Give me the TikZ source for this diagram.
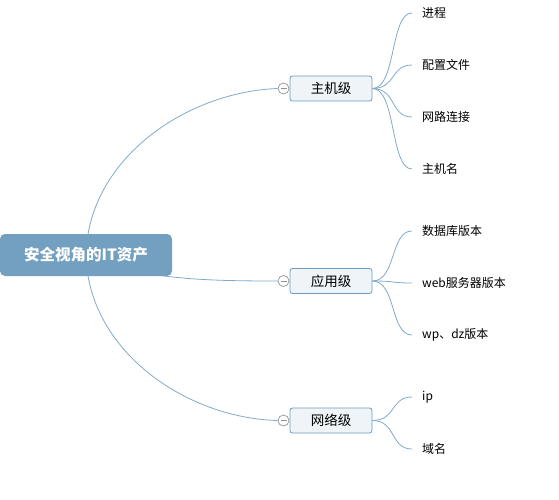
\documentclass[tikz,border=0pt]{standalone}
\usepackage{fontspec}
\setmainfont{Noto Sans CJK SC}
\usetikzlibrary{backgrounds}
\definecolor{rootfill}{HTML}{739FC0}
\definecolor{boxfill}{HTML}{EEF4F8}
\definecolor{boxline}{HTML}{6E9BC0}
\definecolor{conn}{HTML}{82AACB}
\begin{document}
\begin{tikzpicture}[x=1pt,y=1pt,
  root/.style={rectangle, rounded corners=5pt, fill=rootfill, text=white,
    minimum width=172pt, minimum height=42pt, inner sep=0pt,
    font=\fontsize{15.5}{17}\selectfont\bfseries},
  mainbox/.style={rectangle, rounded corners=2.5pt, fill=boxfill, draw=boxline, line width=0.8pt,
    minimum width=82pt, minimum height=25pt, inner sep=0pt,
    font=\fontsize{13.5}{15}\selectfont},
  collapse/.style={circle, draw=gray!85, fill=white, line width=0.7pt, minimum size=11pt, inner sep=0pt,
    path picture={\draw[gray!85, line width=0.7pt] ([xshift=-3pt]path picture bounding box.center) -- ([xshift=3pt]path picture bounding box.center);}},
  leaf/.style={anchor=west, inner sep=0pt, font=\fontsize{12}{14}\selectfont},
  conline/.style={draw=conn, line width=0.8pt},
]
\useasboundingbox (0,0) rectangle (559,-499);

\node[root] (root) at (86,-255) {安全视角的IT资产};

\node[mainbox] (m1) at (331,-88.5) {主机级};
\node[mainbox] (m2) at (331,-281) {应用级};
\node[mainbox] (m3) at (331,-420.5) {网络级};

\node[collapse] (c1) at (283.5,-88.5) {};
\node[collapse] (c2) at (283.5,-281) {};
\node[collapse] (c3) at (283.5,-420.5) {};

\coordinate (e11) at (412,-13);
\coordinate (e12) at (412,-65);
\coordinate (e13) at (412,-117);
\coordinate (e14) at (412,-169);
\coordinate (e21) at (412,-231);
\coordinate (e22) at (412,-283);
\coordinate (e23) at (412,-335);
\coordinate (e31) at (412,-397);
\coordinate (e32) at (412,-449);

\node[leaf] (l11) at (422,-13) {进程};
\node[leaf] (l12) at (422,-65) {配置文件};
\node[leaf] (l13) at (422,-117) {网路连接};
\node[leaf] (l14) at (422,-169) {主机名};
\node[leaf] (l21) at (422,-231) {数据库版本};
\node[leaf] (l22) at (422,-283) {web服务器版本};
\node[leaf] (l23) at (422,-335) {wp、dz版本};
\node[leaf] (l31) at (422,-397) {ip};
\node[leaf] (l32) at (422,-449) {域名};

\begin{scope}[on background layer]
  \fill[white] (0,0) rectangle (559,-499);
  \draw[conline] (root.center) .. controls (88,-160) and (185,-92) .. (c1.west);
  \draw[conline] (root.center) .. controls (140,-279) and (200,-281) .. (c2.west);
  \draw[conline] (root.center) .. controls (88,-350) and (185,-418) .. (c3.west);
  \foreach \e in {e11,e12,e13,e14}
    \draw[conline] (m1.east) .. controls +(24,0) and +(-22,0) .. (\e);
  \foreach \e in {e21,e22,e23}
    \draw[conline] (m2.east) .. controls +(24,0) and +(-22,0) .. (\e);
  \foreach \e in {e31,e32}
    \draw[conline] (m3.east) .. controls +(24,0) and +(-22,0) .. (\e);
\end{scope}
\end{tikzpicture}
\end{document}
